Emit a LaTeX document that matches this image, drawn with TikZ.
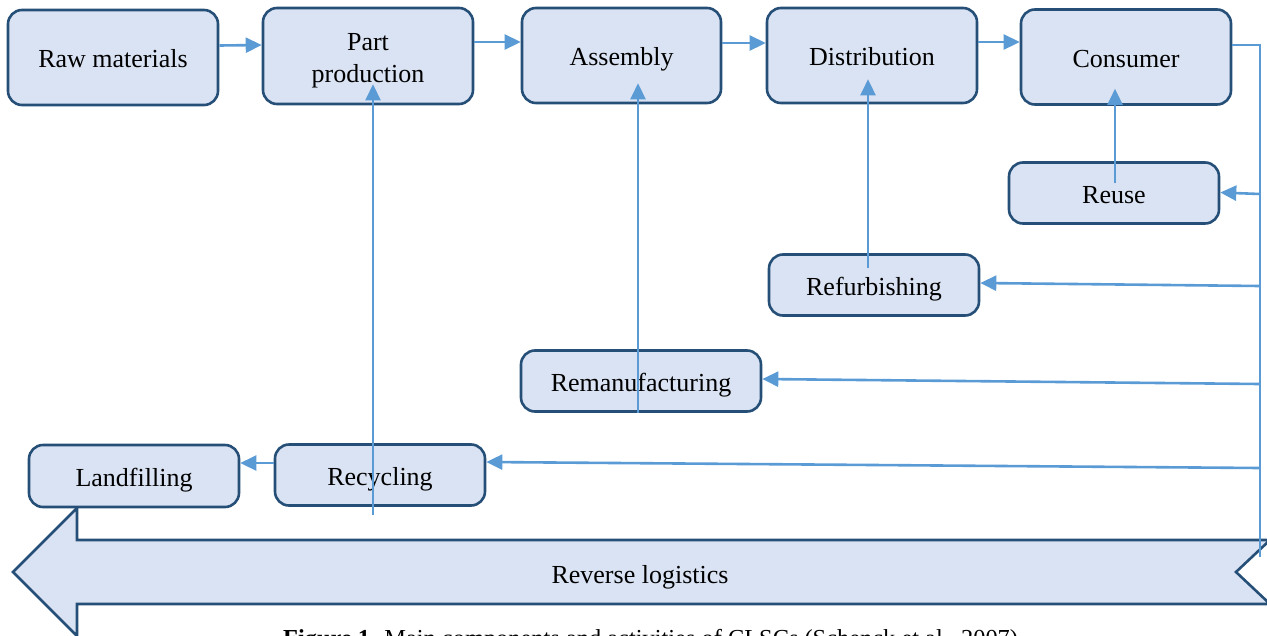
\documentclass[tikz,border=0pt]{standalone}
\usepackage{fontspec}
\setmainfont{Liberation Serif}
\usetikzlibrary{arrows.meta,calc}
\definecolor{fillc}{HTML}{DAE3F3}
\definecolor{bord}{HTML}{264F78}
\definecolor{arrc}{HTML}{5B9BD5}
\tikzset{
  box/.style={draw=bord, fill=fillc, rounded corners=14pt, line width=2.6pt,
    inner sep=0pt, font=\fontsize{26}{32}\selectfont, align=center},
  onel/.style={text height=24pt, text depth=4pt},
  arr/.style={draw=arrc, line width=2.6pt, -{Triangle[length=16pt,width=15pt]}},
  thinline/.style={draw=arrc, line width=1.4pt},
}
\begin{document}
\begin{tikzpicture}[x=1pt,y=-1pt]
\useasboundingbox (0,0) rectangle (1267,635);
% big reverse logistics arrow
\draw[bord, fill=fillc, line width=2.6pt, line join=miter]
  (77,540) -- (1270,540) -- (1236,572) -- (1270,604) -- (77,604) -- (77,636)
  -- (13,572) -- (77,508) -- cycle;
\node[font=\fontsize{26}{32}\selectfont, onel, inner sep=0pt] (rl) at (640,573) {Reverse logistics};

% nodes
\node[box, onel, minimum width=210pt, minimum height=95pt] (raw) at (113,57.5) {Raw materials};
\node[box, minimum width=210pt, minimum height=96pt] (part) at (368,56)
  {\raisebox{-4pt}[\height][\depth]{\begin{tabular}{@{}c@{}}Part\\production\end{tabular}}};
\node[box, onel, minimum width=199pt, minimum height=95pt] (assembly) at (621.5,55.5) {Assembly};
\node[box, onel, minimum width=210pt, minimum height=95pt] (distribution) at (872,55.5) {Distribution};
\node[box, onel, minimum width=210pt, minimum height=95pt] (consumer) at (1126,57) {Consumer};
\node[box, onel, minimum width=210pt, minimum height=61pt] (reuse) at (1114,193) {Reuse};
\node[box, onel, minimum width=210pt, minimum height=61pt] (refurb) at (874,285) {Refurbishing};
\node[box, onel, minimum width=240pt, minimum height=61pt] (reman) at (641,381) {Remanufacturing};
\node[box, onel, minimum width=210pt, minimum height=61pt] (recycling) at (380,475) {Recycling};
\node[box, onel, minimum width=210pt, minimum height=62pt] (landfill) at (134,476) {Landfilling};

% forward chain
\draw[arr] ($(raw.east)+(0,-12)$) -- ($(part.west)+(0,-11)$);
\draw[arr] ($(part.east)+(0,-14)$) -- ($(assembly.west)+(0,-13.5)$);
\draw[arr] ($(assembly.east)+(0,-12.5)$) -- ($(distribution.west)+(0,-12.5)$);
\draw[arr] ($(distribution.east)+(0,-13.5)$) -- ($(consumer.west)+(0,-15)$);

% right collecting line
\coordinate (rtop) at (1260,45);
\coordinate (rbot) at (1260,557);
\draw[thinline] ($(consumer.east)+(0,-12)$) -- (rtop) -- (rbot);

% return arrows
\coordinate (r1) at (1260,194);
\coordinate (r2) at (1260,286);
\coordinate (r3) at (1260,384);
\coordinate (r4) at (1260,468);
\draw[arr] (r1) -- ($(reuse.east)+(0,-0.5)$);
\draw[arr] (r2) -- ($(refurb.east)+(0,-2)$);
\draw[arr] (r3) -- ($(reman.east)+(0,-2)$);
\draw[arr] (r4) -- ($(recycling.east)+(0,-13)$);
\draw[arr] ($(recycling.west)+(0,-12)$) -- ($(landfill.east)+(0,-13)$);

% vertical arrows
\draw[arr] ($(reuse.center)+(1,-10)$) -- ($(reuse.center |- consumer.south)+(1,-17)$);
\draw[arr] ($(refurb.center)+(-6,-17)$) -- ($(refurb.center |- distribution.south)+(-6,-25)$);
\draw[arr] ($(reman.south)+(-3,0)$) -- ($(reman.south |- assembly.south)+(-3,-21)$);
\draw[arr] ($(recycling.south)+(-7,8)$) -- ($(recycling.south |- part.south)+(-7,-21)$);

% caption (cut by the page edge, as in the reference)
\node[anchor=base west, inner sep=0pt, font=\fontsize{24.4}{28}\selectfont] (cap) at (283,646)
  {\textbf{Figure 1.} Main components and activities of CLSCs (Schenck et al., 2007)};
\end{tikzpicture}
\end{document}
